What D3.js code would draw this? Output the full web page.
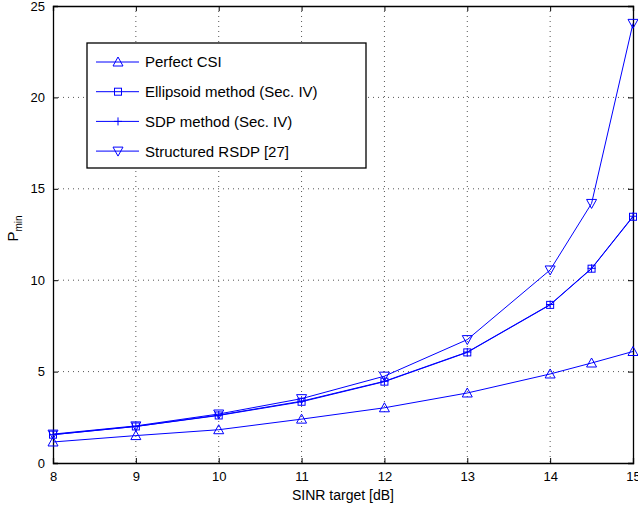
<!DOCTYPE html>
<html>
<head>
<meta charset="utf-8">
<script src="https://cdn.jsdelivr.net/npm/d3@7"></script>
<style>
  body { margin: 0; background: #fff; }
  text { font-family: "Liberation Sans", Arial, sans-serif; }
</style>
</head>
<body>
<script>
// SINR targets (dB)
var sinr = [8, 9, 10, 11, 12, 13, 14, 14.5, 15];
var perfectCSI = [1.15, 1.5, 1.82, 2.4, 3.02, 3.83, 4.87, 5.47, 6.1];
var ellipsoid = [1.55, 2.0, 2.6, 3.35, 4.45, 6.05, 8.65, 10.63, 13.47];
var sdp = [1.55, 2.0, 2.62, 3.38, 4.47, 6.07, 8.67, 10.65, 13.5];
var rsdp = [1.58, 2.03, 2.68, 3.52, 4.75, 6.75, 10.56, 14.2, 24.05];
var xTicks = [8, 9, 10, 11, 12, 13, 14, 15];
var yTicks = [0, 5, 10, 15, 20, 25];
var legendNames = ["Perfect CSI", "Ellipsoid method (Sec. IV)", "SDP method (Sec. IV)", "Structured RSDP [27]"];

var W = 638, H = 508;
var margin = {left: 53, right: 5, top: 6, bottom: 45};
var width = W - margin.left - margin.right,
    height = H - margin.top - margin.bottom;

var svg = d3.select("body").append("svg")
  .attr("width", W)
  .attr("height", H);

var x = d3.scaleLinear().domain([8, 15]).range([0, width]);
var y = d3.scaleLinear().domain([0, 25]).range([height, 0]);

var g = svg.append("g")
  .attr("transform", "translate(" + margin.left + "," + margin.top + ")");

// dotted grid
g.selectAll(".vgrid").data(xTicks.slice(1, -1)).enter()
  .append("line")
  .attr("x1", function (d) { return x(d); })
  .attr("x2", function (d) { return x(d); })
  .attr("y1", 0).attr("y2", height)
  .style("stroke", "#555")
  .style("stroke-width", 1)
  .style("stroke-dasharray", "1,4");
g.selectAll(".hgrid").data(yTicks.slice(1, -1)).enter()
  .append("line")
  .attr("y1", function (d) { return y(d); })
  .attr("y2", function (d) { return y(d); })
  .attr("x1", 0).attr("x2", width)
  .style("stroke", "#555")
  .style("stroke-width", 1)
  .style("stroke-dasharray", "1,4");

// axes with inward ticks on all four sides
var axBottom = g.append("g").attr("transform", "translate(0," + height + ")")
  .call(d3.axisBottom(x).tickValues(xTicks).tickFormat(d3.format("d")).tickSize(-5).tickPadding(8));
var axLeft = g.append("g")
  .call(d3.axisLeft(y).tickValues(yTicks).tickFormat(d3.format("d")).tickSize(-5).tickPadding(8));
var axTop = g.append("g")
  .call(d3.axisTop(x).tickValues(xTicks).tickSize(-5).tickFormat(""));
var axRight = g.append("g").attr("transform", "translate(" + width + ",0)")
  .call(d3.axisRight(y).tickValues(yTicks).tickSize(-5).tickFormat(""));

[axBottom, axLeft, axTop, axRight].forEach(function (a) {
  a.select(".domain").style("stroke", "#000").style("stroke-width", 1.3);
  a.selectAll(".tick line").style("stroke", "#000");
  a.selectAll("text").style("font-size", "13px").attr("fill", "#000")
    .style("font-family", "'Liberation Sans', Arial, sans-serif");
});
axBottom.selectAll("text").attr("dy", "0.8em");

// axis labels
svg.append("text")
  .attr("x", margin.left + width / 2)
  .attr("y", 500)
  .attr("text-anchor", "middle")
  .style("font-size", "14px")
  .text("SINR target [dB]");

var yl = svg.append("text")
  .attr("transform", "translate(18," + (margin.top + height / 2 - 6) + ") rotate(-90)")
  .attr("text-anchor", "middle")
  .style("font-size", "15px");
yl.append("tspan").text("P");
yl.append("tspan").attr("dy", 4).style("font-size", "10px").text("min");

var blue = "#0000ff";
var line = d3.line()
  .x(function (d) { return x(d[0]); })
  .y(function (d) { return y(d[1]); });

function marker(sel, type) {
  if (type === "tri") {
    sel.append("path").attr("d", "M0,-5L5,4L-5,4Z");
  } else if (type === "sq") {
    sel.append("rect").attr("x", -3.5).attr("y", -3.5).attr("width", 7).attr("height", 7);
  } else if (type === "plus") {
    sel.append("path").attr("d", "M-4,0L4,0M0,-4L0,4");
  } else {
    sel.append("path").attr("d", "M0,5L5,-4L-5,-4Z");
  }
  sel.selectAll("*").style("fill", "none").style("stroke", blue).style("stroke-width", 1);
}

var series = [
  {vals: perfectCSI, m: "tri"},
  {vals: ellipsoid, m: "sq"},
  {vals: sdp, m: "plus"},
  {vals: rsdp, m: "tridown"}
];

series.forEach(function (s) {
  var pts = sinr.map(function (v, i) { return [v, s.vals[i]]; });
  g.append("path")
    .datum(pts)
    .attr("d", line)
    .style("fill", "none")
    .style("stroke", blue)
    .style("stroke-width", 1);
  g.selectAll(null).data(pts).enter()
    .append("g")
    .attr("transform", function (d) { return "translate(" + x(d[0]) + "," + y(d[1]) + ")"; })
    .each(function () { marker(d3.select(this), s.m); });
});

// legend
var lg = svg.append("g");
lg.append("rect")
  .attr("x", 87).attr("y", 43)
  .attr("width", 279).attr("height", 125)
  .style("fill", "#fff")
  .style("stroke", "#000")
  .style("stroke-width", 1.3);

series.forEach(function (s, i) {
  var ly = 62 + i * 29.7;
  lg.append("line")
    .attr("x1", 96).attr("x2", 139)
    .attr("y1", ly).attr("y2", ly)
    .style("stroke", blue);
  var mk = lg.append("g").attr("transform", "translate(118," + ly + ")");
  marker(mk, s.m);
  lg.append("text")
    .attr("x", 145).attr("y", ly)
    .attr("dy", "0.36em")
    .style("font-size", "15px")
    .text(legendNames[i]);
});
</script>
</body>
</html>
